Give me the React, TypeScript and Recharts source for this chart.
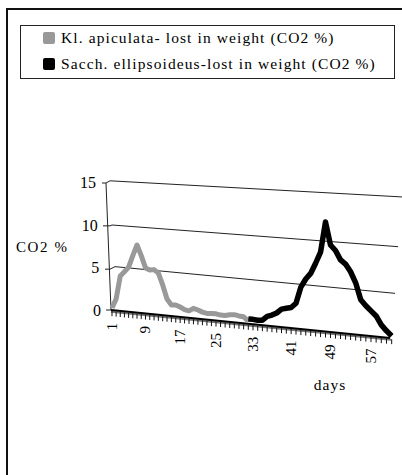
import { ComposedChart, Legend, Line, XAxis, YAxis } from "recharts";

const FONT = "'Liberation Serif', serif";
const GRAY = "#999999";

const klName = "Kl. apiculata- lost in weight (CO2 %)";
const sacchName = "Sacch. ellipsoideus-lost in weight (CO2 %)";

// Heights as read against the left-hand scale. The floor of the 3D plot slopes
// down to the right, so late values sit below zero on that scale.
const klValues = [
    0.25, 1.3, 4.0, 4.5, 5.05, 6.4, 7.65, 6.4, 4.95, 4.7, 4.75, 4.35, 2.95, 1.3, 0.6, 0.6,
    0.35, 0.05, -0.1, 0.2, 0, -0.25, -0.4, -0.4, -0.45, -0.6, -0.65, -0.55, -0.55, -0.7, -0.8, -1.3,
];
const sacchStartDay = 32;
const sacchValues = [
    -1.05, -1.1, -1.2, -1.2, -0.75, -0.6, -0.35, 0.1, 0.2, 0.3, 0.8, 2.7, 3.65, 4.3, 5.5,
    6.8, 10.35, 7.65, 7.0, 5.9, 5.4, 4.5, 3.2, 1.2, 0.5, -0.1, -0.7, -1.75, -2.45, -3.05,
];
const dayCount = 61;
const dayLabelStep = 8;
const yTicks = [0, 5, 10, 15];

// the sloped walls and floor of the 3D box: [axis position, height on the left scale]
const line15 = [[-10, 14.94], [-6, 14.94], [-2, 15.2], [290, 13.3]];
const line10 = [[-9, 9.9], [-2, 9.9], [0, 10], [286, 7.45]];
const line5 = [[-7, 4.8], [-2, 4.8], [3, 5.1], [283, 1.96]];
const leftWall = [[-6, 14.94], [-1, 0]];
const zeroMark = [[-6, 0], [-1, 0]];
const floorBlack = [[-1, 0], [278, -3.3]];
const floorGray = [[-1, -0.2], [279, -3.5]];

// perspective: days get wider apart towards the viewer
const project = (day: number) => (day - 1) * (4.114 + 0.00912 * (day - 1));

const days = Array.from({ length: dayCount }, (_, i) => i + 1);
const positions = days.map(project);
const table = days.map((day) => ({
    pos: project(day),
    kl: day <= klValues.length ? klValues[day - 1] : null,
    sacch: day >= sacchStartDay ? sacchValues[day - sacchStartDay] : null,
}));

const toPoints = (pairs: number[][]) => pairs.map(([pos, value]) => ({ pos, value }));

const DayTick = ({ x, y, index }: any) => {
    const day = index + 1;
    const floorY = y - 42.5 + (x - 110) * 0.1;
    return (
        <g>
            <line x1={x} x2={x} y1={floorY + 1} y2={floorY + 6} stroke="#111" />
            {(day - 1) % dayLabelStep === 0 && (
                <text
                    transform={`translate(${x},${floorY + 12.5}) rotate(-90)`}
                    textAnchor="end"
                    dominantBaseline="central"
                    fontFamily={FONT}
                    fontSize={15}
                    fill="#000"
                >
                    {day}
                </text>
            )}
        </g>
    );
};

const ValueTick = ({ x, y, payload }: any) => (
    <text
        x={x + 17 - payload.value * 0.33}
        y={y}
        textAnchor="end"
        dominantBaseline="central"
        fontFamily={FONT}
        fontSize={16}
        fill="#000"
    >
        {payload.value}
    </text>
);

const LegendBox = ({ payload }: any) => (
    <div
        style={{
            width: 375,
            height: 54,
            border: "1px solid #222",
            boxSizing: "border-box",
            background: "#fff",
            fontFamily: FONT,
            fontSize: 15.5,
            letterSpacing: 1.1,
            color: "#000",
        }}
    >
        <div style={{ position: "relative", top: -1.5 }}>
            {payload
                .filter((item: any) => item.dataKey !== "value")
                .map((item: any) => (
                    <div key={item.value} style={{ display: "flex", alignItems: "center", height: 26 }}>
                        <span
                            style={{
                                width: 12,
                                height: 12,
                                marginLeft: 22,
                                marginRight: 6,
                                borderRadius: 2,
                                background: item.color,
                            }}
                        ></span>
                        {item.value}
                    </div>
                ))}
        </div>
    </div>
);

const guide = (pairs: number[][], color = "#222", width = 1) => (
    <Line
        data={toPoints(pairs)}
        dataKey="value"
        type="linear"
        stroke={color}
        strokeWidth={width}
        dot={false}
        legendType="none"
        isAnimationActive={false}
    />
);

export default function App() {
    return (
        <div
            style={{
                position: "absolute",
                left: 0,
                top: 0,
                width: 402,
                height: 475,
                overflow: "hidden",
                background: "#fff",
            }}
        >
            {/* outer chart frame, its right and bottom edges are cut off */}
            <div
                style={{
                    position: "absolute",
                    left: 6,
                    top: 8,
                    width: 600,
                    height: 600,
                    border: "2px solid #111",
                }}
            ></div>
            <div style={{ position: "absolute", left: 0, top: 0 }}>
                <ComposedChart
                    width={440}
                    height={475}
                    data={table}
                    margin={{ top: 140, right: 26, bottom: 0, left: 0 }}
                >
                    <XAxis
                        dataKey="pos"
                        type="number"
                        domain={[-28, 302]}
                        ticks={positions}
                        interval={0}
                        height={122.5}
                        axisLine={false}
                        tickLine={false}
                        tickSize={0}
                        tickMargin={0}
                        tick={DayTick}
                        label={{
                            value: "days",
                            position: "insideTop",
                            offset: 26,
                            dx: 81,
                            fontFamily: FONT,
                            fontSize: 15.5,
                            letterSpacing: 1,
                            fill: "#000",
                        }}
                    />
                    <YAxis
                        type="number"
                        domain={[-5, 20]}
                        ticks={yTicks}
                        width={84}
                        axisLine={false}
                        tickLine={false}
                        tickSize={0}
                        tickMargin={0}
                        tick={ValueTick}
                        label={{
                            value: "CO2 %",
                            position: "insideLeft",
                            offset: 16,
                            fontFamily: FONT,
                            fontSize: 15,
                            letterSpacing: 1.6,
                            fill: "#000",
                        }}
                    />
                    <Legend
                        layout="vertical"
                        align="center"
                        verticalAlign="middle"
                        content={LegendBox}
                        wrapperStyle={{ left: 20, top: 25, width: 375 }}
                    />
                    {guide(line15)}
                    {guide(line10)}
                    {guide(line5)}
                    {guide(leftWall)}
                    {guide(zeroMark)}
                    {guide(floorGray, "#777", 2)}
                    {guide(floorBlack, "#000", 2)}
                    <Line
                        dataKey="kl"
                        name={klName}
                        type="linear"
                        stroke={GRAY}
                        strokeWidth={5}
                        strokeLinejoin="round"
                        dot={false}
                        isAnimationActive={false}
                    />
                    <Line
                        dataKey="sacch"
                        name={sacchName}
                        type="linear"
                        stroke="#000"
                        strokeWidth={5.5}
                        strokeLinejoin="round"
                        dot={false}
                        isAnimationActive={false}
                    />
                </ComposedChart>
            </div>
        </div>
    );
}
